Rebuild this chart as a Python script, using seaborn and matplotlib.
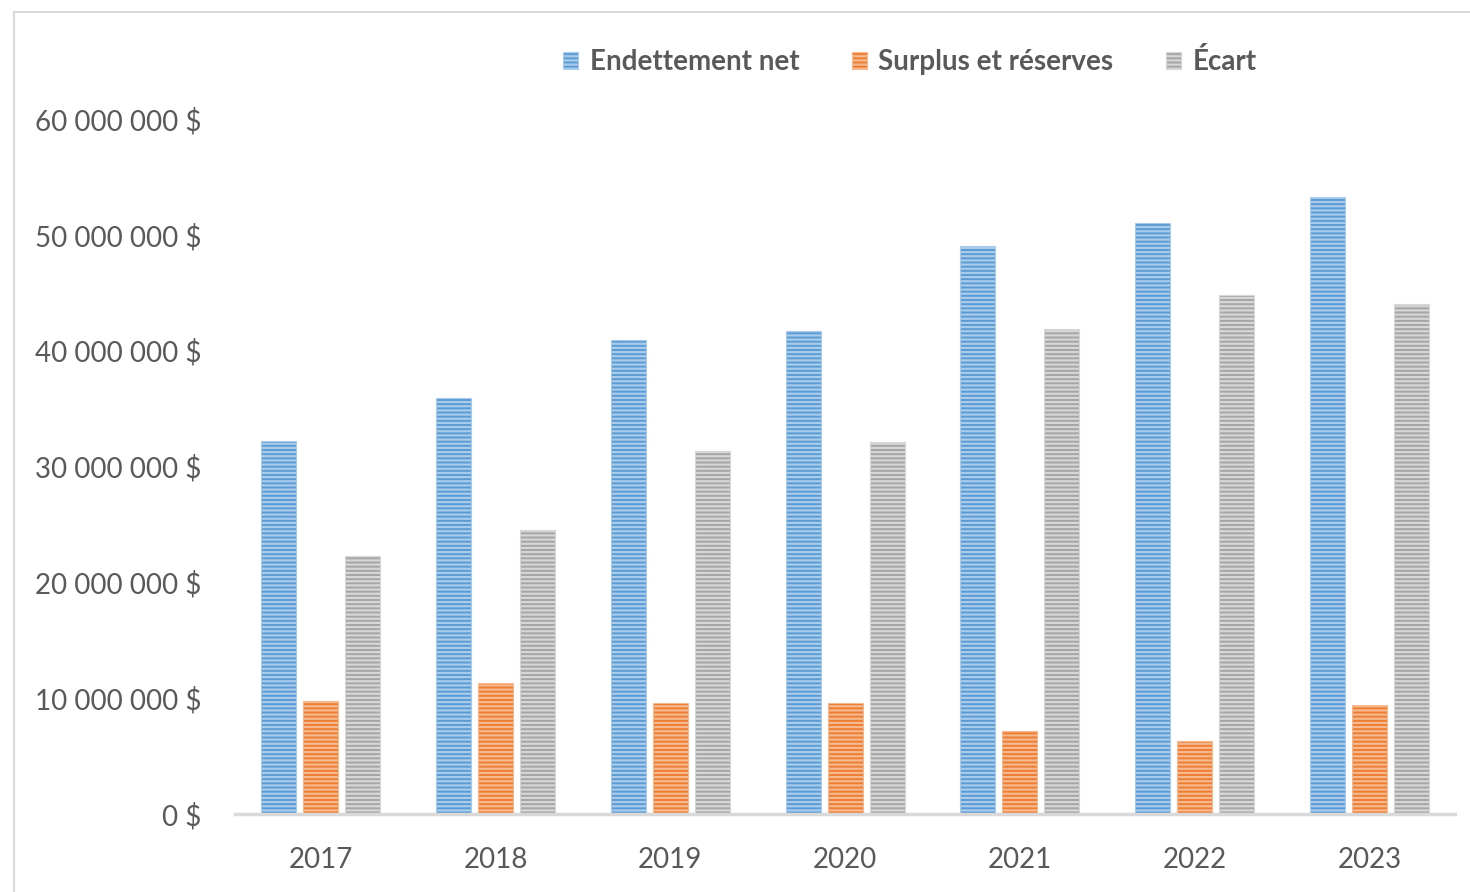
import matplotlib
matplotlib.use("Agg")
import matplotlib.pyplot as plt
import seaborn as sns
import pandas as pd
from matplotlib.patches import Patch, Rectangle
from matplotlib.ticker import FuncFormatter

years = ["2017", "2018", "2019", "2020", "2021", "2022", "2023"]
endettement_net = [32.2e6, 35.9e6, 40.9e6, 41.7e6, 49.0e6, 51.0e6, 53.3e6]
surplus_reserves = [9.8e6, 11.3e6, 9.6e6, 9.6e6, 7.2e6, 6.3e6, 9.4e6]
ecart = [22.3e6, 24.5e6, 31.3e6, 32.1e6, 41.9e6, 44.8e6, 44.0e6]
series_names = ["Endettement net", "Surplus et réserves", "Écart"]
yticks = [0, 10e6, 20e6, 30e6, 40e6, 50e6, 60e6]

colors = ["#5B9BD5", "#ED7D31", "#A5A5A5"]
stripe = ["#A9CBEB", "#F6B98F", "#D6D6D6"]

rows = []
for name, vals in zip(series_names, [endettement_net, surplus_reserves, ecart]):
    for y, v in zip(years, vals):
        rows.append({"Année": y, "Série": name, "Valeur": v})
df = pd.DataFrame(rows)

sns.set_theme(style="white")
plt.rcParams["font.family"] = ["Lato", "DejaVu Sans"]
plt.rcParams["hatch.linewidth"] = 1.6

fig = plt.figure(figsize=(14.70, 8.92), dpi=100)
ax = fig.add_axes([0.16, 0.0874, 0.8298, 0.7792])

sns.barplot(data=df, x="Année", y="Valeur", hue="Série", order=years,
            hue_order=series_names, palette=colors, width=0.72, gap=0.167,
            saturation=1, ax=ax, legend=False)

n = len(years)
for i, p in enumerate(ax.patches[: 3 * n]):
    s = i // n
    p.set_facecolor(colors[s])
    p.set_edgecolor(stripe[s])
    p.set_linewidth(0.8)
    p.set_hatch("----")

ax.set_xlim(-0.49, 6.49)
ax.set_ylim(0, 60e6)
ax.set_yticks(yticks)
ax.yaxis.set_major_formatter(FuncFormatter(lambda v, _: f"{int(v):,}".replace(",", " ") + " $"))
ax.set_xlabel("")
ax.set_ylabel("")
for sp in ["top", "right", "left"]:
    ax.spines[sp].set_visible(False)
ax.spines["bottom"].set_color("#D9D9D9")
ax.spines["bottom"].set_linewidth(2.5)
ax.tick_params(axis="y", length=0, pad=24, labelsize=20, labelcolor="#595959")
ax.tick_params(axis="x", length=0, pad=24, labelsize=20, labelcolor="#595959")

handles = [Patch(facecolor=c, edgecolor=e, hatch="----", linewidth=0.8)
           for c, e in zip(colors, stripe)]
leg = fig.legend(handles, series_names, loc="center", bbox_to_anchor=(0.619, 0.931),
                 ncol=3, frameon=False, handlelength=0.55, handleheight=0.55,
                 handletextpad=0.4, columnspacing=1.9,
                 prop={"size": 20, "weight": "bold"})
for t in leg.get_texts():
    t.set_color("#595959")

fig.patches.append(Rectangle((14 / 1470, -0.05), 1.1, 1 - 12 / 892 + 0.05,
                             transform=fig.transFigure, fill=False,
                             edgecolor="#D9D9D9", linewidth=1.5))

fig.savefig("out.png", dpi=100)
